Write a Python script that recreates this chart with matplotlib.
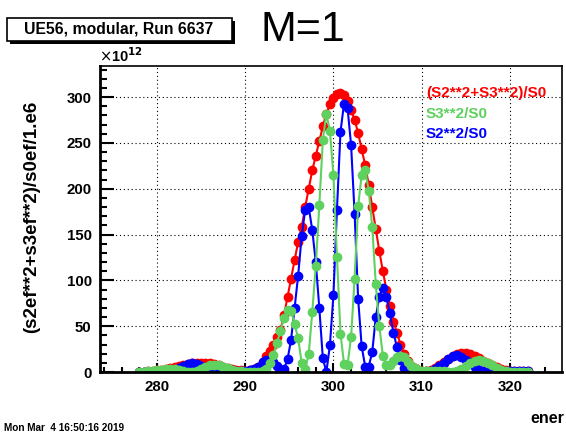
import matplotlib
matplotlib.use("Agg")
import matplotlib.pyplot as plt
from matplotlib.patches import Rectangle
from matplotlib.ticker import MultipleLocator

plt.rcParams['font.family'] = ['Liberation Sans', 'DejaVu Sans']

# energy points (dense in the tails, coarser around the peak)
ener = [278.0, 278.5, 279.0, 279.5, 280.0, 280.5, 281.0, 281.5, 282.0, 282.5,
        283.0, 283.5, 284.0, 284.5, 285.0, 285.5, 286.0, 286.5, 287.0, 287.5,
        288.0, 288.5, 289.0, 289.5, 290.0, 290.5, 291.0, 291.5,
        292.0, 292.4, 292.8, 293.2, 293.6, 294.0, 294.4, 294.8, 295.2, 295.6,
        296.0, 296.4, 296.8, 297.2, 297.6, 298.0, 298.4, 298.8, 299.2, 299.6,
        300.0, 300.4, 300.8, 301.2, 301.6, 302.0, 302.4, 302.8, 303.2, 303.6,
        304.0, 304.4, 304.8, 305.2, 305.6, 306.0, 306.4, 306.8, 307.2, 307.6,
        308.0, 308.4, 308.8, 309.2, 309.6,
        310.0, 310.5, 311.0, 311.5, 312.0, 312.5, 313.0, 313.5, 314.0, 314.5,
        315.0, 315.5, 316.0, 316.5, 317.0, 317.5, 318.0, 318.5, 319.0, 319.5,
        320.0, 320.5, 321.0, 321.5, 322.0]

# (S2**2+S3**2)/S0   [x 1e12]
tot = [0.3, 0.5, 0.8, 1.2, 1.8, 2.5, 3.4, 4.4, 5.5, 6.6,
       7.7, 8.6, 9.4, 9.9, 10.1, 10.0, 9.5, 8.6, 7.4, 6.0,
       4.6, 3.4, 2.4, 1.8, 1.6, 2.0, 3.4, 6.0,
       11, 17, 23, 29, 38, 46, 62, 82, 102, 122,
       142, 158, 180, 200, 220, 236, 252, 268, 282, 292,
       299, 303, 304, 302, 296, 286, 275, 261, 243, 226,
       204, 180, 156, 132, 110, 90, 72, 55, 43, 30,
       20, 12, 7, 4, 2.5,
       1.5, 1.5, 2.5, 4.5, 7.5, 11, 14.5, 17.5, 19.5, 20.5,
       20.5, 19.5, 17.5, 15, 12.5, 10, 7.5, 5.5, 3.8, 2.5,
       1.6, 1.2, 1.0, 1.0, 1.0]

# S3**2/S0
s3sq = [0.1, 0.25, 0.55, 1.05, 1.75, 2.5, 3.1, 3.3, 2.8, 2.0,
        1.0, 0.2, 0.1, 1.1, 3.1, 5.5, 7.4, 8.1, 7.4, 5.8,
        4.1, 2.55, 1.4, 0.8, 0.4, 0.25, 0.1, 0.0,
        0.6, 3.5, 9.4, 18.6, 31.9, 44.6, 59, 68, 67, 52,
        37, 10, 3, 20, 65, 116, 182, 253, 282, 263,
        215, 126, 42, 9, 8, 38, 102, 181, 215, 220,
        198, 158, 96, 50, 18, 8, 8, 12, 16, 17,
        16, 11, 7, 4, 2.5,
        1.1, 0.9, 1.05, 1.2, 1.1, 0.7, 0.1, 0.1, 1.2, 3.7,
        7.0, 10.1, 12.2, 12.7, 11.9, 10, 7.3, 4.8, 2.7, 1.3,
        0.5, 0.2, 0.05, 0.0, 0.02]

# S2**2/S0
s2sq = [0.2, 0.25, 0.25, 0.15, 0.05, 0.0, 0.3, 1.1, 2.7, 4.6,
        6.7, 8.4, 9.3, 8.8, 7.0, 4.5, 2.1, 0.5, 0.0, 0.2,
        0.5, 0.85, 1.0, 1.0, 1.2, 1.75, 3.3, 6.0,
        10.4, 13.5, 13.6, 10.4, 6.1, 1.4, 3, 14, 35, 70,
        105, 148, 177, 180, 155, 120, 70, 15, 0, 29,
        84, 177, 262, 293, 288, 248, 173, 80, 28, 6,
        6, 22, 60, 82, 92, 82, 64, 43, 27, 13,
        4, 1, 0, 0, 0,
        0.4, 0.6, 1.45, 3.3, 6.4, 10.3, 14.4, 17.4, 18.3, 16.8,
        13.5, 9.4, 5.3, 2.3, 0.6, 0.0, 0.2, 0.7, 1.1, 1.2,
        1.1, 1.0, 0.95, 1.0, 0.98]

RED = '#ff0000'
GREEN = '#5ed15e'
BLUE = '#0000ff'

W, H = 566, 436
def fx(x):
    return x / W
def fy(y):
    return 1 - y / H

fig = plt.figure(figsize=(W / 100, H / 100), dpi=100)
ax = fig.add_axes([fx(100), fy(372), (562 - 100) / W, (372 - 66) / H])

for vals, col in [(tot, RED), (s2sq, BLUE), (s3sq, GREEN)]:
    ax.plot(ener, vals, '-o', color=col, lw=1.5, ms=6, mec=col, mfc=col)

ax.set_xlim(273.55, 325.9)
ax.set_ylim(0, 334)
ax.xaxis.set_major_locator(MultipleLocator(10))
ax.xaxis.set_minor_locator(MultipleLocator(2))
ax.yaxis.set_major_locator(MultipleLocator(50))
ax.yaxis.set_minor_locator(MultipleLocator(10))
ax.grid(True, which='major', color='black', linestyle=(0, (1, 2.5)), linewidth=0.8)
ax.set_axisbelow(True)

ax.tick_params(axis='x', which='major', direction='in', length=6.8, width=1.5,
               labelsize=10.8, pad=6)
ax.tick_params(axis='x', which='minor', direction='in', length=3.4, width=1.5)
ax.tick_params(axis='y', which='major', direction='in', length=10, width=1.5,
               labelsize=10.8, pad=6)
ax.tick_params(axis='y', which='minor', direction='in', length=5, width=1.5)
for lab in ax.get_xticklabels() + ax.get_yticklabels():
    lab.set_fontweight('bold')
ax.spines['left'].set_linewidth(2)
ax.spines['bottom'].set_linewidth(2)
ax.spines['top'].set_linewidth(1.2)
ax.spines['right'].set_linewidth(1.2)

fig.text(fx(99), fy(65), r'$\times$10$^{\mathbf{12}}$', fontsize=10.5,
         fontweight='bold', ha='left', va='bottom')

fig.text(fx(32), fy(217), '(s2ef**2+s3ef**2)/s0ef/1.e6', rotation=90,
         fontsize=13.5, fontweight='bold', ha='center', va='center')
fig.text(fx(564), fy(418), 'ener', fontsize=11.5, fontweight='bold',
         ha='right', va='center')

# legend-like labels
fig.text(fx(426), fy(93), '(S2**2+S3**2)/S0', color=RED, fontsize=11,
         fontweight='bold', va='center')
fig.text(fx(426), fy(114), 'S3**2/S0', color=GREEN, fontsize=11,
         fontweight='bold', va='center')
fig.text(fx(426), fy(134), 'S2**2/S0', color=BLUE, fontsize=11,
         fontweight='bold', va='center')

# title box with shadow
fig.patches.append(Rectangle((fx(10), fy(44)), (232 - 7) / W, 23 / H,
                             transform=fig.transFigure, facecolor='black',
                             edgecolor='black', lw=0))
fig.patches.append(Rectangle((fx(7), fy(41)), (232 - 7) / W, 23 / H,
                             transform=fig.transFigure, facecolor='white',
                             edgecolor='black', lw=1.2))
fig.text(fx(119), fy(29.5), 'UE56, modular, Run 6637', fontsize=11.3,
         fontweight='bold', ha='center', va='center')

fig.text(fx(261), fy(41), 'M=1', fontsize=31, ha='left', va='baseline')

fig.text(fx(4), fy(428), 'Mon Mar  4 16:50:16 2019', fontsize=7.2,
         fontweight='bold', ha='left', va='center')

fig.savefig('out.png', dpi=100)
